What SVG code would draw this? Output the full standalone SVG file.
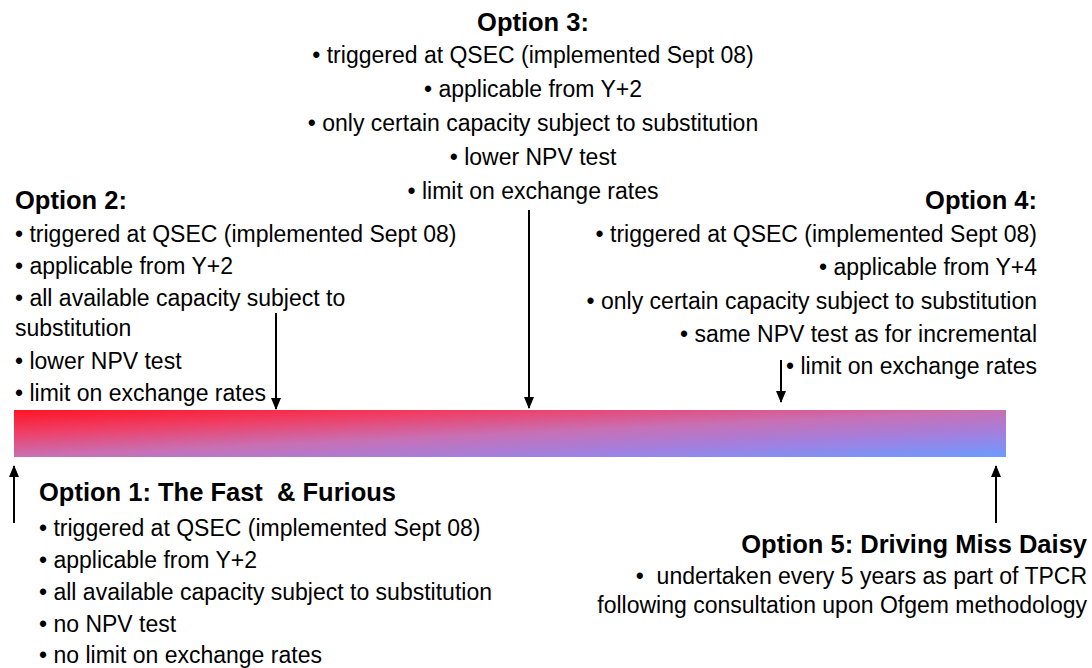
<svg xmlns="http://www.w3.org/2000/svg" width="1092" height="668" viewBox="0 0 1092 668">
<style>
text{font-family:"Liberation Sans",Arial,sans-serif;fill:#000}
.t{font-size:25.5px;font-weight:bold}
.b{font-size:23px}
.c{text-anchor:middle}
.r{text-anchor:end}
.arr{stroke:#000;stroke-width:2;fill:none;marker-end:url(#ah)}
</style>
<defs>
<linearGradient id="bar" x1="0" y1="0" x2="1" y2="1">
<stop offset="0" stop-color="#ff1424"/>
<stop offset="0.25" stop-color="#ee4068"/>
<stop offset="0.5" stop-color="#c870b4"/>
<stop offset="0.75" stop-color="#a080e0"/>
<stop offset="1" stop-color="#6a9cff"/>
</linearGradient>
<marker id="ah" viewBox="0 0 12 10" markerWidth="12" markerHeight="10" refX="11" refY="5" orient="auto" markerUnits="userSpaceOnUse">
<path d="M0,0 L12,5 L0,10 z" fill="#000"/>
</marker>
</defs>
<rect id="timeline" x="14" y="410" width="992" height="47" fill="url(#bar)"/>
<g id="option3">
<text class="t c" x="533" y="31">Option 3:</text>
<text class="b c" x="533" y="63">• triggered at QSEC (implemented Sept 08)</text>
<text class="b c" x="533" y="97">• applicable from Y+2</text>
<text class="b c" x="533" y="131">• only certain capacity subject to substitution</text>
<text class="b c" x="533" y="165">• lower NPV test</text>
<text class="b c" x="533" y="199">• limit on exchange rates</text>
</g>
<g id="option2">
<text class="t" x="15" y="209">Option 2:</text>
<text class="b" x="15" y="242">• triggered at QSEC (implemented Sept 08)</text>
<text class="b" x="15" y="274">• applicable from Y+2</text>
<text class="b" x="15" y="306">• all available capacity subject to</text>
<text class="b" x="15" y="336">substitution</text>
<text class="b" x="15" y="369">• lower NPV test</text>
<text class="b" x="15" y="401">• limit on exchange rates</text>
</g>
<g id="option4">
<text class="t r" x="1037" y="209">Option 4:</text>
<text class="b r" x="1037" y="242">• triggered at QSEC (implemented Sept 08)</text>
<text class="b r" x="1037" y="275">• applicable from Y+4</text>
<text class="b r" x="1037" y="309">• only certain capacity subject to substitution</text>
<text class="b r" x="1037" y="342">• same NPV test as for incremental</text>
<text class="b r" x="1037" y="374">• limit on exchange rates</text>
</g>
<g id="option1">
<text class="t" x="39" y="501" xml:space="preserve">Option 1: The Fast  &amp; Furious</text>
<text class="b" x="39" y="536">• triggered at QSEC (implemented Sept 08)</text>
<text class="b" x="39" y="568">• applicable from Y+2</text>
<text class="b" x="39" y="600">• all available capacity subject to substitution</text>
<text class="b" x="39" y="632">• no NPV test</text>
<text class="b" x="39" y="663">• no limit on exchange rates</text>
</g>
<g id="option5">
<text class="t r" x="1087" y="553">Option 5: Driving Miss Daisy</text>
<text class="b r" x="1087" y="584" xml:space="preserve">•  undertaken every 5 years as part of TPCR</text>
<text class="b r" x="1087" y="613">following consultation upon Ofgem methodology</text>
</g>
<g id="connectors">
<path class="arr" d="M276,313 V409"/>
<path class="arr" d="M529,210 V408"/>
<path class="arr" d="M781,360 V402"/>
<path class="arr" d="M14,523 V466"/>
<path class="arr" d="M996,523 V466"/>
</g>
</svg>
